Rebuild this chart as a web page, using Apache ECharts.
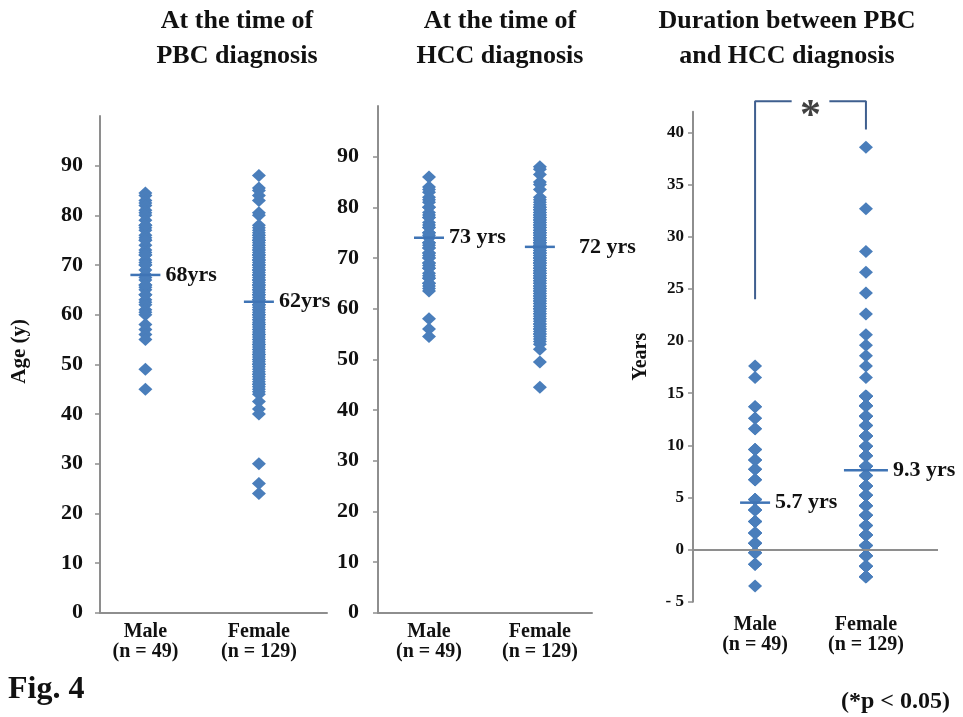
<!DOCTYPE html>
<html><head><meta charset="utf-8">
<script src="https://cdn.jsdelivr.net/npm/echarts@6/dist/echarts.min.js"></script>
<style>html,body{margin:0;padding:0;background:#fff}#c{width:963px;height:717px}</style>
</head><body><div id="c"></div>
<script>
// ---------- data ----------
const groups = ['Male', 'Female'];
const groupN = [49, 129];

const pbcMale = [84.5,84,83,82.5,82,81,80.5,80,79,78,77.5,77,76,75.5,75,74,73,72.5,72,71,70.5,70,69,68,67.5,67,66,65.5,65,64,63,62.5,62,61,60.5,60,58,57,56,55,49,45,78,75,72,70,68,66,64];
const pbcFemale = [88,85.5,85,84,83,80.5,80,
  78,77.5,77,76.5,76,75.5,75,74.5,74,73.5,73,72.5,72,71.5,71,70.5,70,69.5,69,68.5,68,67.5,67,66.5,66,65.5,65,64.5,64,63.5,63,62.5,62,61.5,61,60.5,60,59.5,59,58.5,58,57.5,57,56.5,56,55.5,55,54.5,54,53.5,53,52.5,52,51.5,51,50.5,50,49.5,49,48.5,48,47.5,47,46.5,46,45.5,45,44.5,44,
  42.5,41,40,30,26,24,
  76,75,74,73,72,71,70,69,68,67,66,65,64,63,62,61,60,59,58,57,56,55,54,53,52,51,50,
  75,72,70,68,66,64,62,60,58,56,54,52,50,48,46,63,65,67,69,71];
const hccMale = [86,84,83.5,83,82,81.5,81,80,79,78.5,78,77,76.5,76,75,74.5,74,73,72.5,72,71,70.5,70,69,68.5,68,67,66.5,66,65,64.5,64,63.5,58,56,54.5,
  80,78,76,75,74,73,72,71,70,69,68,66,65];
const hccFemale = [88,87.5,86.5,85,84.5,83.5,
  82,81.5,81,80.5,80,79.5,79,78.5,78,77.5,77,76.5,76,75.5,75,74.5,74,73.5,73,72.5,72,71.5,71,70.5,70,69.5,69,68.5,68,67.5,67,66.5,66,65.5,65,64.5,64,63.5,63,62.5,62,61.5,61,60.5,60,59.5,59,58.5,58,57.5,57,56.5,56,55.5,55,54.5,54,53.5,53,
  52,49.5,44.5,
  80,79,78,77,76,75,74,73,72,71,70,69,68,67,66,65,64,63,62,61,60,59,58,57,56,55,
  79.5,78.5,77.5,76.5,75.5,74.5,73.5,72.5,71.5,70.5,69.5,68.5,67.5,66.5,65.5,64.5,63.5,62.5,61.5,60.5,
  76,74,72,70,68,66,64,62,60,78,75,73,71,69,67];
const durMale = [17.6,16.5,13.7,12.6,11.6,9.6,8.6,7.7,6.7,4.8,3.8,2.7,1.6,0.6,-0.3,-1.4,-3.5,
  0.6,0.6,0.6,-0.3,-0.3,-0.3,1.6,1.6,1.6,2.7,2.7,2.7,3.8,3.8,3.8,4.8,4.8,4.8,-1.4,-1.4,6.7,6.7,7.7,7.7,8.6,8.6,9.6,9.6,11.6,12.6,13.7,0.6];
const durFemale = [38.6,32.7,28.6,26.6,24.6,22.6,20.6,19.6,18.6,17.6,16.5,
  14.7,13.8,12.8,11.9,10.9,9.9,9.0,8.0,7.1,6.1,5.2,4.2,3.3,2.3,1.4,0.4,-0.6,-1.6,-2.6,
  14.7,13.8,12.8,11.9,10.9,9.9,9.0,8.0,7.1,6.1,5.2,4.2,3.3,2.3,1.4,0.4,-0.6,-1.6,-2.6,
  14.7,13.8,12.8,11.9,10.9,9.9,9.0,8.0,7.1,6.1,5.2,4.2,3.3,2.3,1.4,0.4,-0.6,-1.6,-2.6,
  14.7,13.8,12.8,11.9,10.9,9.9,9.0,8.0,7.1,6.1,5.2,4.2,3.3,2.3,1.4,0.4,-0.6,-1.6,-2.6,
  14.7,13.8,12.8,11.9,10.9,9.9,9.0,8.0,7.1,6.1,5.2,4.2,3.3,2.3,1.4,0.4,-0.6,-1.6,-2.6,
  14.7,13.8,12.8,11.9,10.9,9.9,9.0,8.0,7.1,6.1,5.2,4.2,3.3,2.3,1.4,0.4,-0.6,-1.6,-2.6,
  14.7,13.8,0.4,-0.6];

const pbcMean = [68, 62.6];      const pbcMeanText = ['68yrs', '62yrs'];
const hccMean = [74, 72.2];      const hccMeanText = ['73 yrs', '72 yrs'];
const durMean = [4.5, 7.6];      const durMeanText = ['5.7 yrs', '9.3 yrs'];

const panelTitles = ['At the time of\nPBC diagnosis', 'At the time of\nHCC diagnosis', 'Duration between PBC\nand HCC diagnosis'];
const ageRange = [0, 100, 10];
const yearRange = [-5, 42, 5];
const bracketLeft = [[0, 24], [0, 43], [0.33, 43]];
const bracketRight = [[0.67, 43], [1, 43], [1, 40.3]];
const sigMark = '*';
const sigNote = '(*p < 0.05)';
const figLabel = 'Fig. 4';

// ---------- styles ----------
const SERIF = "'Liberation Serif','Times New Roman',serif";
const BLUE = '#4A7EBB';
const GRAY = '#8E8E8E';

function xAxisFor(gridIndex, min, max, margin, showLine) {
  return {
    type: 'value', gridIndex, min, max,
    axisLine: { show: showLine, onZero: false, lineStyle: { color: GRAY, width: 2 } },
    axisTick: { show: false },
    splitLine: { show: false },
    axisLabel: {
      customValues: [0, 1], margin,
      formatter: v => groups[Math.round(v)] + '\n(n = ' + groupN[Math.round(v)] + ')',
      fontFamily: SERIF, fontWeight: 'bold', fontSize: 20, color: '#111', lineHeight: 20
    }
  };
}
function yAxisFor(gridIndex, range, fs, margin, name, nameGap, nameFs, namePad) {
  return {
    type: 'value', gridIndex, min: range[0], max: range[1], interval: range[2],
    name, nameLocation: 'middle', nameGap,
    nameTextStyle: { fontFamily: SERIF, fontWeight: 'bold', fontSize: nameFs, color: '#111', padding: namePad },
    axisLine: { show: true, onZero: false, lineStyle: { color: GRAY, width: 2 } },
    axisTick: { show: true, inside: false, length: 5, lineStyle: { color: GRAY, width: 1.5 } },
    splitLine: { show: false },
    axisLabel: {
      showMaxLabel: false, margin,
      formatter: v => (v < 0 ? '- ' + Math.abs(v) : String(v)),
      fontFamily: SERIF, fontWeight: 'bold', fontSize: fs, color: '#111'
    }
  };
}
function pointsSeries(idx, group, values) {
  return {
    type: 'scatter', xAxisIndex: idx, yAxisIndex: idx,
    symbol: 'diamond', symbolSize: [14, 13],
    itemStyle: { color: BLUE, opacity: 1 },
    data: values.map(v => [group, v]), z: 2
  };
}
function meanSeries(idx, means, texts, extras) {
  return {
    type: 'scatter', xAxisIndex: idx, yAxisIndex: idx,
    symbol: 'rect', z: 3,
    itemStyle: { color: '#3F74B5', opacity: 1 },
    data: means.map((m, i) => Object.assign({ value: [i, m], symbolSize: [30, 2.5] }, extras[i] || {})),
    label: {
      show: true, position: 'right', distance: 5,
      formatter: p => texts[p.dataIndex],
      fontFamily: SERIF, fontWeight: 'bold', fontSize: 22, color: '#111', opacity: 1
    }
  };
}

const chart = echarts.init(document.getElementById('c'), null, { renderer: 'canvas' });
const titleStyle = { fontFamily: SERIF, fontWeight: 'bold', fontSize: 26, color: '#111', lineHeight: 35 };
chart.setOption({
  animation: false,
  backgroundColor: '#fff',
  title: [
    { text: panelTitles[0], left: 237, top: 4, textAlign: 'center', padding: 0, textStyle: Object.assign({ align: 'center' }, titleStyle) },
    { text: panelTitles[1], left: 500, top: 4, textAlign: 'center', padding: 0, textStyle: Object.assign({ align: 'center' }, titleStyle) },
    { text: panelTitles[2], left: 787, top: 4, textAlign: 'center', padding: 0, textStyle: Object.assign({ align: 'center' }, titleStyle) },
    { text: figLabel, left: 8, top: 674, padding: 0, textStyle: { fontFamily: SERIF, fontWeight: 'bold', fontSize: 32, color: '#111' } },
    { text: sigNote, right: 13, top: 690, padding: 0, textStyle: { fontFamily: SERIF, fontWeight: 'bold', fontSize: 24, color: '#111' } }
  ],
  grid: [
    { left: 100, top: 116, width: 227, height: 496.7 },
    { left: 378, top: 106, width: 214, height: 506.7 },
    { left: 693, top: 111.7, width: 245, height: 490 }
  ],
  xAxis: [
    xAxisFor(0, -0.4, 1.6, 9, true),
    xAxisFor(1, -0.46, 1.47, 9, true),
    xAxisFor(2, -0.56, 1.65, 13, false)
  ],
  yAxis: [
    yAxisFor(0, ageRange, 22, 17, 'Age (y)', 70, 21, [0, 0, 0, 26]),
    yAxisFor(1, ageRange, 22, 19, '', 0, 20, 0),
    yAxisFor(2, yearRange, 17, 9, 'Years', 42, 20, 0)
  ],
  series: [
    pointsSeries(0, 0, pbcMale),
    pointsSeries(0, 1, pbcFemale),
    meanSeries(0, pbcMean, pbcMeanText, []),
    pointsSeries(1, 0, hccMale),
    pointsSeries(1, 1, hccFemale),
    meanSeries(1, hccMean, hccMeanText, [null, { label: { distance: 24 } }]),
    Object.assign(pointsSeries(2, 0, durMale), {
      markLine: {
        silent: true, symbol: 'none', label: { show: false },
        lineStyle: { color: GRAY, width: 2, type: 'solid' },
        data: [{ yAxis: 0 }]
      }
    }),
    pointsSeries(2, 1, durFemale),
    meanSeries(2, durMean, durMeanText, [null, { symbolSize: [44, 2.5] }]),
    {
      type: 'line', xAxisIndex: 2, yAxisIndex: 2, clip: false, symbol: 'none', z: 1,
      lineStyle: { color: '#3F5F8F', width: 2 }, data: bracketLeft
    },
    {
      type: 'line', xAxisIndex: 2, yAxisIndex: 2, clip: false, symbol: 'none', z: 1,
      lineStyle: { color: '#3F5F8F', width: 2 }, data: bracketRight
    },
    {
      type: 'scatter', xAxisIndex: 2, yAxisIndex: 2, clip: false, symbol: 'rect', symbolSize: 2,
      itemStyle: { color: 'rgba(0,0,0,0)' },
      data: [[0.5, 43]],
      label: {
        show: true, position: 'inside', formatter: sigMark, offset: [0, 16],
        fontFamily: SERIF, fontWeight: 'bold', fontSize: 42, color: '#111'
      }
    }
  ]
});
</script>
</body></html>
